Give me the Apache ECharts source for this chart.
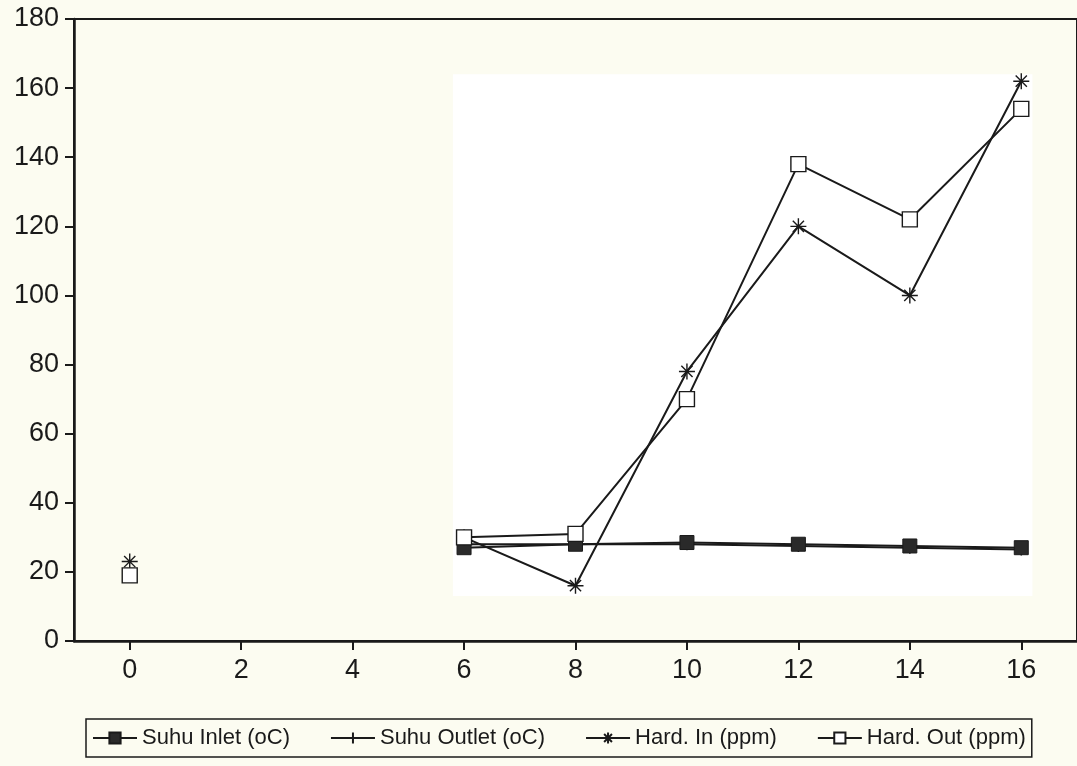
<!DOCTYPE html>
<html>
<head>
<meta charset="utf-8">
<script src="https://cdn.jsdelivr.net/npm/echarts@6/dist/echarts.min.js"></script>
<style>
  html, body { margin: 0; padding: 0; background: #fcfcf1; }
  #chart { width: 1077px; height: 766px; }
</style>
</head>
<body>
<div id="chart"></div>
<script>
// x = waktu
const xValues = [0, 2, 4, 6, 8, 10, 12, 14, 16];
const xTicks = [0, 2, 4, 6, 8, 10, 12, 14, 16];
const suhuInlet = [null, null, null, 27, 28, 28.5, 28, 27.5, 27];
const suhuOutlet = [null, null, null, 28, 28, 28, 27.5, 27, 26.5];
const hardIn = [23, null, null, 30, 16, 78, 120, 100, 162];
const hardOut = [19, null, null, 30, 31, 70, 138, 122, 154];
const seriesNames = ['Suhu Inlet (oC)', 'Suhu Outlet (oC)', 'Hard. In (ppm)', 'Hard. Out (ppm)'];

const INK = '#1a1a1a';
const FONT = '"Liberation Sans", Arial, sans-serif';

const asterisk = 'path://M0,5L10,5M5,0L5,10M1.5,1.5L8.5,8.5M8.5,1.5L1.5,8.5';
const plus = 'path://M0,5L10,5M5,0L5,10';

// pasangkan x dengan y, null jadi celah
const pairs = (ys) => xValues.map((x, i) => [x, ys[i] == null ? '-' : ys[i]]);

const chart = echarts.init(document.getElementById('chart'));

const baseLine = (name, ys, extra) => Object.assign({
  name: name,
  type: 'line',
  data: pairs(ys),
  connectNulls: false,
  showAllSymbol: true,
  lineStyle: { color: INK, width: 2 },
  emphasis: { disabled: true },
  z: 3
}, extra);

chart.setOption({
  backgroundColor: '#fcfcf1',
  animation: false,
  grid: {
    left: 74,
    top: 19,
    width: 1010,
    height: 622,
    show: true,
    backgroundColor: 'transparent',
    borderColor: INK,
    borderWidth: 2
  },
  xAxis: {
    type: 'value',
    min: -1,
    max: 17,
    axisLine: { onZero: false, lineStyle: { color: INK, width: 2.5 } },
    axisTick: { show: true, length: 9, customValues: xTicks, lineStyle: { color: INK, width: 2 } },
    axisLabel: { customValues: xTicks, margin: 16, fontSize: 27, fontFamily: FONT, color: INK },
    splitLine: { show: false }
  },
  yAxis: {
    type: 'value',
    min: 0,
    max: 180,
    interval: 20,
    axisLine: { show: true, onZero: false, lineStyle: { color: INK, width: 2.5 } },
    axisTick: { show: true, length: 9, lineStyle: { color: INK, width: 2 } },
    axisLabel: { margin: 15, fontSize: 27, fontFamily: FONT, color: INK },
    splitLine: { show: false }
  },
  legend: {
    data: seriesNames,
    left: 86,
    top: 719,
    padding: [8, 6],
    itemGap: 40,
    itemWidth: 44,
    itemHeight: 14,
    borderColor: INK,
    borderWidth: 1.5,
    backgroundColor: '#fcfcf1',
    textStyle: { fontSize: 22, fontFamily: FONT, color: INK }
  },
  series: [
    {
      name: 'latar',
      type: 'line',
      data: [],
      silent: true,
      z: 1,
      markArea: {
        silent: true,
        itemStyle: { color: '#ffffff' },
        data: [[{ xAxis: 5.8, yAxis: 13 }, { xAxis: 16.2, yAxis: 164 }]]
      }
    },
    baseLine(seriesNames[1], suhuOutlet, {
      symbol: plus,
      symbolSize: 12,
      itemStyle: { color: INK, borderColor: INK, borderWidth: 1.5 }
    }),
    baseLine(seriesNames[0], suhuInlet, {
      symbol: 'rect',
      symbolSize: 14,
      itemStyle: { color: '#2a2a2a', borderColor: INK, borderWidth: 1 }
    }),
    baseLine(seriesNames[2], hardIn, {
      symbol: asterisk,
      symbolSize: 16,
      itemStyle: { color: INK, borderColor: INK, borderWidth: 1.4 }
    }),
    baseLine(seriesNames[3], hardOut, {
      symbol: 'rect',
      symbolSize: 15,
      itemStyle: { color: '#ffffff', borderColor: INK, borderWidth: 1.4 }
    })
  ]
});
</script>
</body>
</html>
